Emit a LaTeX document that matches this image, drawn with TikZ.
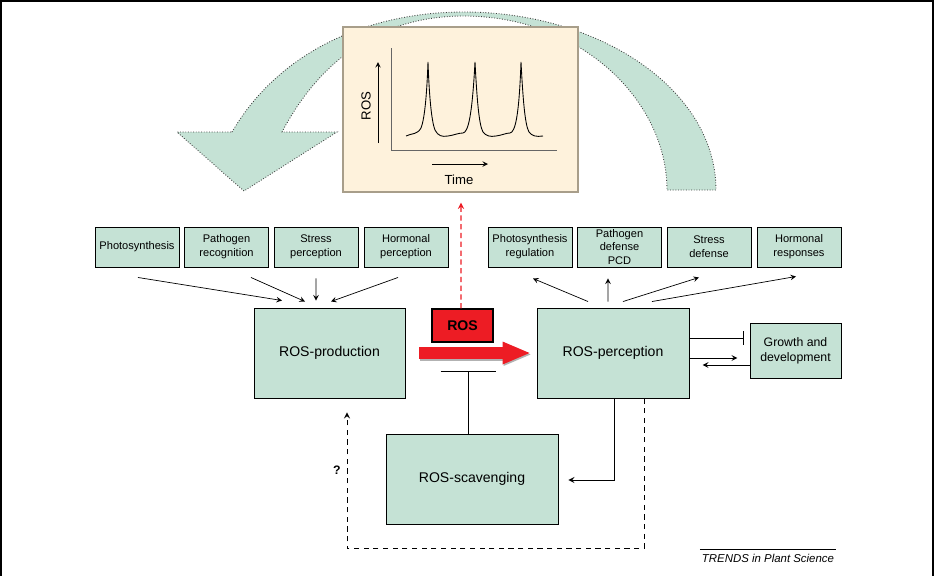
\documentclass[tikz,border=0pt]{standalone}
\usepackage{fontspec}
\setmainfont{Liberation Sans}
\usetikzlibrary{arrows.meta}
\definecolor{boxgreen}{RGB}{197,226,213}
\definecolor{rosred}{RGB}{237,28,36}
\definecolor{graphfill}{RGB}{254,242,220}
\definecolor{graphframe}{RGB}{168,158,138}

\begin{document}
\begin{tikzpicture}[x=0.02cm, y=-0.02cm,
    box/.style={draw=black, fill=boxgreen, line width=0.55pt, inner sep=0pt, align=center,
        minimum width=1.68cm, minimum height=0.8cm, font=\fontsize{6.3}{7.9}\selectfont},
    bigbox/.style={draw=black, fill=boxgreen, line width=0.55pt, inner sep=0pt, align=center,
        font=\fontsize{8}{9.6}\selectfont},
    link/.style={-stealth, line width=0.4pt}]

    \useasboundingbox (0,0) rectangle (934,576);
    \draw[line width=0.08cm] (0,576) -- (0,0) -- (934,0) -- (934,576);

    \draw[fill=boxgreen, draw=black!75, densely dotted, line width=0.5pt]
        (232,132) .. controls (280,50) and (370,12) .. (464,12)
        .. controls (600,12) and (716,90) .. (716,190) -- (667,190)
        .. controls (667,100) and (580,16) .. (464,16)
        .. controls (380,16) and (320,60) .. (282,132)
        -- (337,132) -- (244,191) -- (177,132) -- cycle;

    \node[draw=graphframe, fill=graphfill, line width=0.8pt, minimum width=4.7cm, minimum height=3.3cm] (graph) at (460.5,109.5) {};
    \draw[line width=0.5pt, black!60] (391,48) -- (391,150) -- (557,150);
    \draw[link] (378,143) -- (378,62);
    \draw[link] (432,164) -- (488,164);
    \node[rotate=90, font=\fontsize{7.5}{9}\selectfont] (roslabel) at (366,106) {ROS};
    \node[font=\fontsize{7.5}{9}\selectfont] (timelabel) at (459,180) {Time};
    \draw[line width=0.5pt] (406,136) .. controls (412,133) and (417,135) .. (421,128)
        .. controls (425,118) and (427,90) .. (428,62)
        .. controls (429,90) and (431,120) .. (435,130)
        .. controls (438,136) and (442,137) .. (448,136)
        .. controls (455,135) and (458,133) .. (463,133)
        .. controls (468,132) and (472,118) .. (475,62)
        .. controls (477,100) and (479,125) .. (483,132)
        .. controls (486,136) and (490,137) .. (496,136)
        .. controls (503,135) and (506,133) .. (510,133)
        .. controls (515,132) and (519,118) .. (521,62)
        .. controls (523,100) and (525,125) .. (529,132)
        .. controls (532,136) and (536,137) .. (543,136);

    \node[box] (ps) at (137,247) {Photosynthesis};
    \node[box] (pr) at (226.5,247) {Pathogen\\recognition};
    \node[box] (sp) at (316,247) {Stress\\perception};
    \node[box] (hp) at (406,247) {Hormonal\\perception};

    \node[box] (psr) at (530,247) {Photosynthesis\\regulation};
    \node[box] (pdp) at (619.5,247) {Pathogen\\defense\\PCD};
    \node[box] (sd) at (709,247) {Stress\\defense};
    \node[box] (hr) at (799,247) {Hormonal\\responses};

    \node[bigbox, minimum width=3.02cm, minimum height=1.8cm] (prod) at (329.5,353) {ROS-production};
    \node[bigbox, minimum width=3.04cm, minimum height=1.8cm] (perc) at (613,353) {ROS-perception};
    \node[bigbox, minimum width=3.44cm, minimum height=1.8cm] (scav) at (472,479) {ROS-scavenging};
    \node[bigbox, minimum width=1.82cm, minimum height=1.1cm, font=\fontsize{7}{8.5}\selectfont] (gd) at (795.5,350.5) {Growth and\\development};
    \node[draw=black, fill=rosred, line width=0.6pt, minimum width=1.22cm, minimum height=0.66cm,
        font=\bfseries\fontsize{8}{9.6}\selectfont] (ros) at (462.5,325.5) {ROS};

    \draw[link] ([xshift=0.02cm,yshift=-0.2cm]ps.south) -- ([xshift=-0.95cm,yshift=0.14cm]prod.north);
    \draw[link] ([xshift=0.49cm,yshift=-0.2cm]pr.south) -- ([xshift=-0.49cm,yshift=0.12cm]prod.north);
    \draw[link] ([yshift=-0.22cm]sp.south) -- ([xshift=-0.27cm,yshift=0.14cm]prod.north);
    \draw[link] ([xshift=-0.16cm,yshift=-0.2cm]hp.south) -- ([xshift=0.03cm,yshift=0.12cm]prod.north);

    \draw[link] ([xshift=-0.5cm,yshift=0.12cm]perc.north) -- ([xshift=0.06cm,yshift=-0.22cm]psr.south);
    \draw[link] ([xshift=-0.1cm,yshift=0.12cm]perc.north) -- ([xshift=-0.23cm,yshift=-0.22cm]pdp.south);
    \draw[link] ([xshift=0.2cm,yshift=0.12cm]perc.north) -- ([xshift=-0.2cm,yshift=-0.2cm]sd.south);
    \draw[link] ([xshift=0.78cm,yshift=0.12cm]perc.north) -- ([xshift=-0.06cm,yshift=-0.18cm]hr.south);

    \draw[gray!60, line width=0.24cm, -{Triangle[length=0.54cm,width=0.46cm,line width=0pt]}]
        ([xshift=0.3cm,yshift=-0.03cm]prod.east) -- ([xshift=-0.12cm,yshift=-0.03cm]perc.west);
    \draw[rosred, line width=0.24cm, -{Triangle[length=0.54cm,width=0.46cm,line width=0pt]}]
        ([xshift=0.28cm]prod.east) -- ([xshift=-0.14cm]perc.west);
    \draw[rosred, link, line width=0.6pt, dash pattern=on 3pt off 2pt] ([xshift=-0.03cm]ros.north) -- ([xshift=0.01cm,yshift=-0.2cm]graph.south);

    \draw[line width=0.5pt, -{Bar[width=1.12cm]}] ([xshift=-0.07cm]scav.north) -- ++(0,-63);

    \draw[line width=0.5pt, -{Bar[width=0.28cm]}] ([yshift=0.3cm]perc.east) -- ++(54,0);
    \draw[link, line width=0.5pt] ([yshift=-0.1cm]perc.east) -- ++(48,0);
    \draw[link, line width=0.5pt] ([yshift=-0.29cm]gd.west) -- ++(-47,0);

    \draw[link, line width=0.5pt] ([xshift=0.02cm]perc.south) |- ([xshift=0.2cm,yshift=-0.02cm]scav.east);
    \draw[link, line width=0.5pt, dash pattern=on 3pt off 2.5pt] ([xshift=0.62cm]perc.south) -- ++(0,150)
        -| ([xshift=0.35cm,yshift=-0.28cm]prod.south);
    \node[font=\bfseries\fontsize{7}{8}\selectfont] (q) at (337,470) {?};

    \node[font=\itshape\fontsize{6.5}{7.8}\selectfont, inner sep=1pt] (trends) at (768,558) {TRENDS in Plant Science};
    \draw[line width=0.5pt] ([yshift=0.05cm]trends.north west) -- ([yshift=0.05cm]trends.north east);

\end{tikzpicture}
\end{document}
